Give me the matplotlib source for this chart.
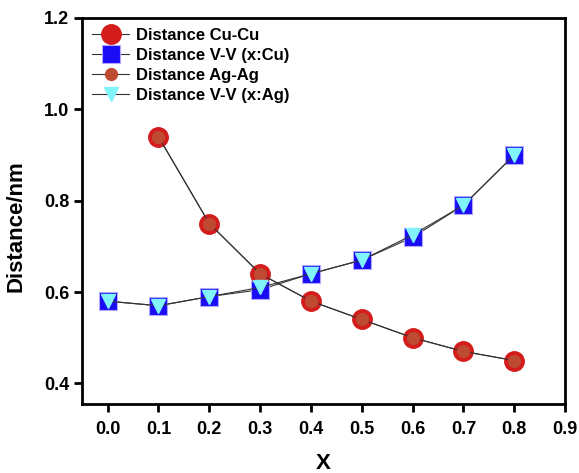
import numpy as np
import matplotlib.pyplot as plt

plt.rcParams['font.family'] = 'Liberation Sans'
plt.rcParams['font.weight'] = 'bold'

x_cu = [0.1, 0.2, 0.3, 0.4, 0.5, 0.6, 0.7, 0.8]
d_cucu = [0.94, 0.75, 0.64, 0.58, 0.54, 0.50, 0.47, 0.45]
d_agag = [0.94, 0.75, 0.64, 0.58, 0.54, 0.50, 0.47, 0.45]

x_v = [0.0, 0.1, 0.2, 0.3, 0.4, 0.5, 0.6, 0.7, 0.8]
d_vv_cu = [0.58, 0.57, 0.59, 0.605, 0.64, 0.67, 0.72, 0.79, 0.90]
d_vv_ag = [0.58, 0.57, 0.59, 0.61, 0.64, 0.67, 0.725, 0.79, 0.90]

fig = plt.figure(figsize=(5.79, 4.73), dpi=100)
ax = fig.add_axes([0.142, 0.146, 0.834, 0.816])

line = dict(color='#333333', lw=0.8)
ax.plot(x_cu, d_cucu, marker='o', ms=14, mfc='#d41c1c', mec='#d41c1c', label='Distance Cu-Cu', **line)
ax.plot(x_v, d_vv_cu, marker='s', ms=13, mfc='#1a0cf5', mec='#b0a8ff', mew=0.8, label='Distance V-V (x:Cu)', **line)
ax.plot(x_cu, d_agag, marker='o', ms=8.5, mfc='#bf4a32', mec='#bf4a32', label='Distance Ag-Ag', **line)
ax.plot(x_v, d_vv_ag, marker='v', ms=10, mfc='#80f4f8', mec='#80f4f8', label='Distance V-V (x:Ag)', **line)

ax.set_xlim(-0.05, 0.9)
ax.set_ylim(0.355, 1.2)
ax.set_xticks(np.arange(0, 0.91, 0.1))
ax.set_yticks([0.4, 0.6, 0.8, 1.0, 1.2])
ax.xaxis.set_major_formatter(plt.FormatStrFormatter('%.1f'))
ax.yaxis.set_major_formatter(plt.FormatStrFormatter('%.1f'))
ax.tick_params(labelsize=13, width=2, length=6)
ax.tick_params(axis='x', pad=6)
for s in ax.spines.values():
    s.set_linewidth(2)

ax.set_xlabel('X', fontsize=16, fontweight='bold')
ax.set_ylabel('Distance/nm', fontsize=16, fontweight='bold')
ax.xaxis.set_label_coords(0.5, -0.128)
ax.yaxis.set_label_coords(-0.116, 0.461)

ax.legend(loc='upper left', frameon=False, fontsize=12, borderaxespad=0.4,
          handlelength=2.2, handletextpad=0.4, labelspacing=0.3, borderpad=0.2)

fig.savefig('out.png', dpi=100)
